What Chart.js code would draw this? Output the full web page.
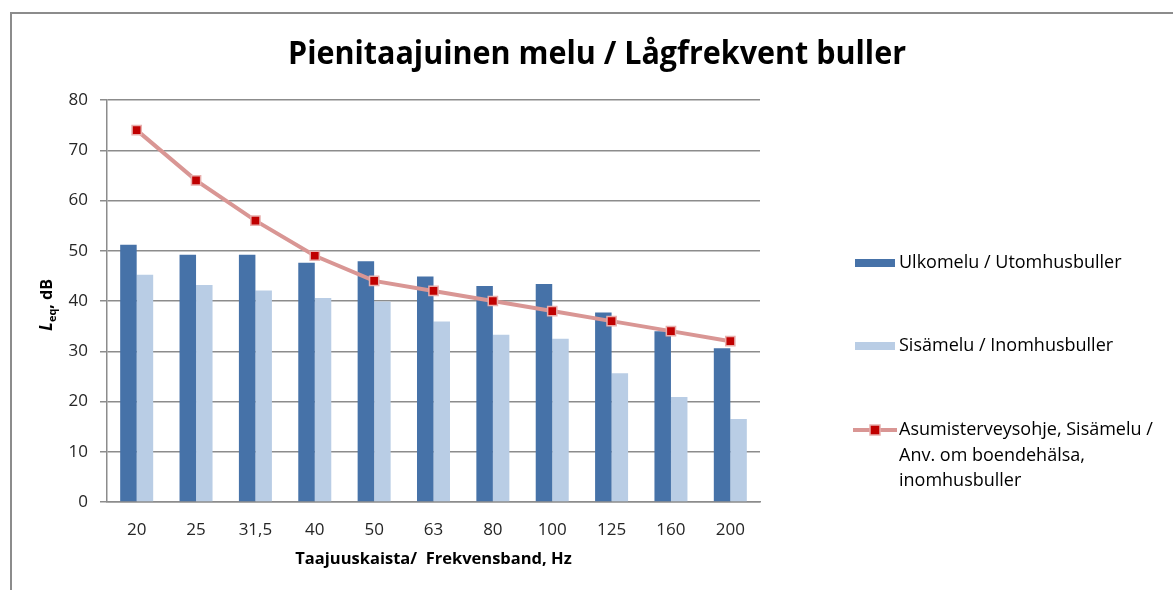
<!DOCTYPE html>
<html><head><meta charset="utf-8">
<script src="https://cdn.jsdelivr.net/npm/chart.js@4.4.1/dist/chart.umd.min.js"></script>
<style>
html,body{margin:0;padding:0;background:#fff;}
#wrap{position:relative;width:1173px;height:590px;overflow:hidden;}
#frame{position:absolute;left:10px;top:12px;width:1300px;height:700px;border-left:2px solid #8c8c8c;border-top:2px solid #8c8c8c;}
canvas{position:absolute;left:0;top:0;}
</style></head><body>
<div id="wrap"><div id="frame"></div><canvas id="c" width="1173" height="590"></canvas></div>
<script>
const categories = ['20','25','31,5','40','50','63','80','100','125','160','200'];
const outdoor = [51.2,49.2,49.2,47.6,47.9,44.9,43.0,43.4,37.7,34.0,30.6];
const indoor = [45.2,43.2,42.1,40.6,39.9,35.9,33.3,32.5,25.6,20.9,16.5];
const guideline = [74,64,56,49,44,42,40,38,36,34,32];
const seriesNames = ['Ulkomelu / Utomhusbuller','Sisämelu / Inomhusbuller',['Asumisterveysohje, Sisämelu /','Anv. om boendehälsa,','inomhusbuller']];
const titleText = 'Pienitaajuinen melu / Lågfrekvent buller';
const xTitle = 'Taajuuskaista/  Frekvensband, Hz';

const darkBlue = '#4672A8', lightBlue = '#B9CDE5', lineCol = '#D99694', markCol = '#C00000';

Chart.defaults.font.family = "'Open Sans', sans-serif";
Chart.defaults.color = '#262626';

const extras = {
  id: 'extras',
  afterDraw(chart) {
    const ctx = chart.ctx;
    ctx.save();
    // title (condensed horizontally to resemble the narrow original face)
    ctx.save();
    ctx.fillStyle = '#000';
    ctx.textAlign = 'center';
    ctx.textBaseline = 'alphabetic';
    ctx.font = "bold 33px 'Open Sans', sans-serif";
    const tw = ctx.measureText(titleText).width;
    const sx = Math.min(1, 618 / tw);
    ctx.translate(597, 64);
    ctx.scale(sx, 1);
    ctx.fillText(titleText, 0, 0);
    ctx.restore();
    // y title
    ctx.save();
    ctx.translate(52, 305);
    ctx.rotate(-Math.PI / 2);
    ctx.textAlign = 'left';
    ctx.fillStyle = '#000';
    const fL = "italic bold 17px 'Open Sans', sans-serif";
    const fS = "bold 11px 'Open Sans', sans-serif";
    const fR = "bold 16px 'Open Sans', sans-serif";
    ctx.font = fL; const wL = ctx.measureText('L').width;
    ctx.font = fS; const wS = ctx.measureText('eq').width;
    ctx.font = fR; const wR = ctx.measureText(', dB').width;
    let x0 = -(wL + wS + wR) / 2;
    ctx.font = fL; ctx.fillText('L', x0, 0); x0 += wL;
    ctx.font = fS; ctx.fillText('eq', x0, 4); x0 += wS;
    ctx.font = fR; ctx.fillText(', dB', x0, 0);
    ctx.restore();
    // legend
    ctx.textAlign = 'left';
    ctx.textBaseline = 'middle';
    ctx.font = "18px 'Open Sans', sans-serif";
    ctx.fillStyle = darkBlue; ctx.fillRect(855, 259, 40, 8);
    ctx.fillStyle = '#000'; ctx.fillText(seriesNames[0], 899, 263);
    ctx.fillStyle = lightBlue; ctx.fillRect(855, 342, 40, 8);
    ctx.fillStyle = '#000'; ctx.fillText(seriesNames[1], 899, 346);
    ctx.strokeStyle = lineCol; ctx.lineWidth = 4;
    ctx.beginPath(); ctx.moveTo(853, 430); ctx.lineTo(897, 430); ctx.stroke();
    ctx.fillStyle = markCol; ctx.fillRect(870, 425, 10, 10);
    ctx.strokeStyle = '#E8AFAD'; ctx.lineWidth = 1.5; ctx.strokeRect(870, 425, 10, 10);
    ctx.fillStyle = '#000';
    seriesNames[2].forEach((t, i) => ctx.fillText(t, 899, 430 + i * 25.5));
    ctx.restore();
  }
};

new Chart(document.getElementById('c'), {
  data: {
    labels: categories,
    datasets: [
      { type: 'line', label: 'Asumisterveysohje', data: guideline, borderColor: lineCol, borderWidth: 4,
        tension: 0, pointStyle: 'rect', pointRadius: 6.5, pointHoverRadius: 6.5,
        pointBackgroundColor: markCol, pointBorderColor: '#E8AFAD', pointBorderWidth: 1.5, order: 0 },
      { type: 'bar', label: seriesNames[0], data: outdoor, backgroundColor: darkBlue, borderWidth: 0, order: 1 },
      { type: 'bar', label: seriesNames[1], data: indoor, backgroundColor: lightBlue, borderWidth: 0, order: 1 }
    ]
  },
  options: {
    responsive: false,
    animation: false,
    layout: { padding: { left: 0, right: 413, top: 100, bottom: 17 } },
    datasets: { bar: { categoryPercentage: 0.556, barPercentage: 1 } },
    plugins: { legend: { display: false }, title: { display: false }, tooltip: { enabled: false } },
    scales: {
      x: {
        afterFit(s) { s.height = 71; },
        grid: { display: false, drawTicks: false },
        border: { display: true, color: '#8c8c8c', width: 1.5 },
        ticks: { font: { size: 17 }, padding: 18, color: '#262626' },
        title: { display: true, text: xTitle, font: { size: 16.5, weight: 'bold' }, color: '#000', padding: { top: 14 } }
      },
      y: {
        min: 0, max: 80,
        afterFit(s) { s.width = 107; },
        ticks: { stepSize: 10, font: { size: 17 }, padding: 12, color: '#262626' },
        grid: { color: '#8c8c8c', lineWidth: 1.5, tickLength: 7, drawTicks: true },
        border: { display: true, color: '#8c8c8c', width: 1.5 }
      }
    }
  },
  plugins: [extras]
});
</script>
</body></html>
